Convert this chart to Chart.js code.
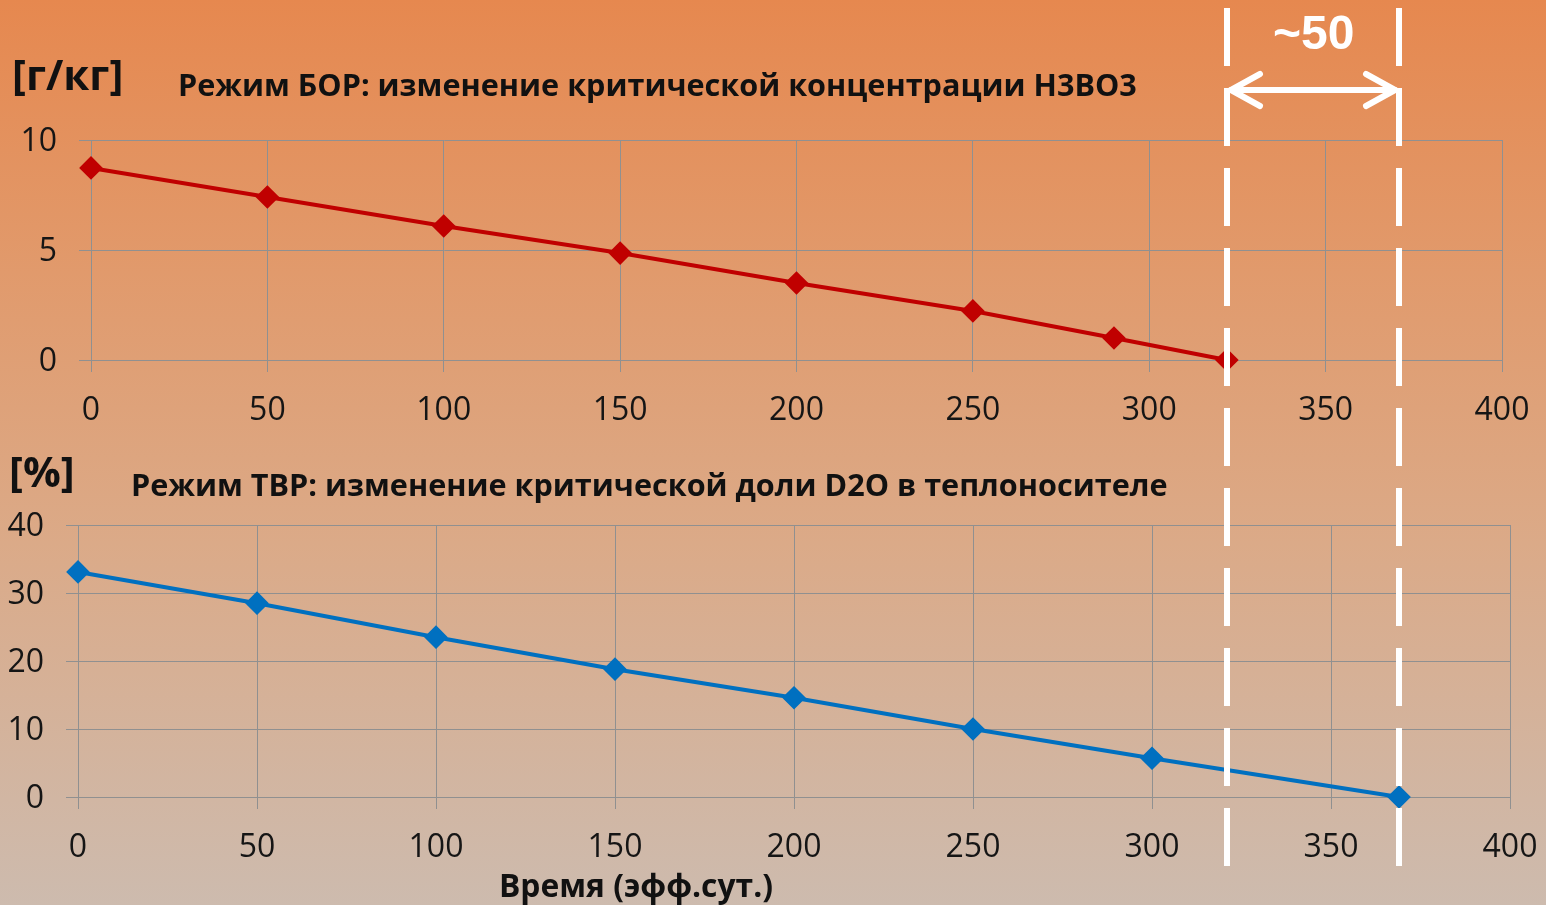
<!DOCTYPE html>
<html><head><meta charset="utf-8">
<script src="https://cdn.jsdelivr.net/npm/chart.js@4/dist/chart.umd.min.js"></script>
<style>
html,body{margin:0;padding:0;}
body{width:1546px;height:905px;position:relative;overflow:hidden;
 background:linear-gradient(to bottom,#E6884F 0%,#E19A6C 30%,#DBAA88 60%,#CDBBAE 100%);
 font-family:"Open Sans",sans-serif;}
canvas{position:absolute;left:0;}
.t{position:absolute;font-weight:bold;color:#111;white-space:nowrap;line-height:1;}
</style></head><body>
<canvas id="c1" width="1546" height="430" style="top:0;width:1546px;height:430px"></canvas>
<canvas id="c2" width="1546" height="475" style="top:430px;width:1546px;height:475px"></canvas>
<canvas id="ov" width="1546" height="905" style="top:0;width:1546px;height:905px;pointer-events:none"></canvas>
<div class="t" style="left:12px;top:53px;font-size:42px">[г/кг]</div>
<div class="t" id="title1" style="left:178px;top:69px;font-size:30.6px">Режим БОР: изменение критической концентрации H3BO3</div>
<div class="t" style="left:9px;top:450px;font-size:42px">[%]</div>
<div class="t" id="title2" style="left:131px;top:469px;font-size:30.6px">Режим ТВР: изменение критической доли D2O в теплоносителе</div>
<div class="t" style="left:499px;top:869px;font-size:31.8px">Время (эфф.сут.)</div>
<div class="t" style="left:1273px;top:9px;font-size:48px;color:#fff;font-family:'Liberation Sans',Arial,sans-serif">~50</div>
<script>
// Data
const borDays = [0, 50, 100, 150, 200, 250, 290, 322];
const borConc = [8.73, 7.41, 6.09, 4.86, 3.5, 2.23, 1.0, 0];
const tvrDays = [0, 50, 100, 150, 200, 250, 300, 369];
const tvrD2O = [33.1, 28.5, 23.5, 18.8, 14.6, 10.0, 5.7, 0];
const xTicks = [0, 50, 100, 150, 200, 250, 300, 350, 400];
const borTicks = [0, 5, 10];
const tvrTicks = [0, 10, 20, 30, 40];
const markerLeft = 322;   // end of BOR mode (top chart scale)
const markerRight = 369;  // end of TVR mode (bottom chart scale)

const tickFont = {family:"'Open Sans', sans-serif", size:32};
const gridColor = '#909090';

function makeChart(id, xs, ys, color, yMax, yTicks, left, right, padTop, axisH) {
  return new Chart(document.getElementById(id), {
    type:'line',
    data:{datasets:[{data: xs.map((x,i)=>({x:x,y:ys[i]})), borderColor:color, backgroundColor:color,
      borderWidth:4, pointStyle:'rectRot', pointRadius:9, pointHoverRadius:9, tension:0, clip:false}]},
    options:{
      responsive:false, animation:false, devicePixelRatio:1,
      layout:{padding:{left:0, right:1546-right, top:padTop, bottom:0}},
      plugins:{legend:{display:false}, tooltip:{enabled:false}},
      scales:{
        x:{type:'linear', min:0, max:400,
          afterBuildTicks:s=>{s.ticks = xTicks.map(v=>({value:v}));},
          afterFit:s=>{s.height = axisH; s.paddingLeft = 0; s.paddingRight = 0;},
          grid:{color:gridColor, lineWidth:1, tickLength:12, drawTicks:true},
          border:{color:gridColor},
          ticks:{font:tickFont, color:'#151515', padding:20, maxRotation:0}},
        y:{min:0, max:yMax,
          afterBuildTicks:s=>{s.ticks = yTicks.map(v=>({value:v}));},
          afterFit:s=>{s.width = left; s.paddingTop = 0; s.paddingBottom = 0;},
          grid:{color:gridColor, lineWidth:1, tickLength:12},
          border:{color:gridColor},
          ticks:{font:tickFont, color:'#151515', padding:22, labelOffset:2}}
      }
    }
  });
}
const chartTop = makeChart('c1', borDays, borConc, '#C00000', 10, borTicks, 91, 1502, 140, 70);
const chartBot = makeChart('c2', tvrDays, tvrD2O, '#0070C0', 40, tvrTicks, 78, 1510, 95, 108);

// overlay: dashed guide lines and double arrow
const xl = Math.round(chartTop.scales.x.getPixelForValue(markerLeft));
const xr = Math.round(chartBot.scales.x.getPixelForValue(markerRight));
const ctx = document.getElementById('ov').getContext('2d');
ctx.strokeStyle = '#ffffff';
ctx.lineWidth = 6;
ctx.setLineDash([58, 22]);
[xl, xr].forEach(x=>{ctx.beginPath(); ctx.moveTo(x, 8); ctx.lineTo(x, 868); ctx.stroke();});
ctx.setLineDash([]);
ctx.lineCap = 'round'; ctx.lineJoin = 'round';
const ay = 90;
ctx.beginPath(); ctx.moveTo(xl+4, ay); ctx.lineTo(xr-4, ay); ctx.stroke();
ctx.beginPath(); ctx.moveTo(xl+33, ay-16); ctx.lineTo(xl+4, ay); ctx.lineTo(xl+33, ay+16); ctx.stroke();
ctx.beginPath(); ctx.moveTo(xr-33, ay-16); ctx.lineTo(xr-4, ay); ctx.lineTo(xr-33, ay+16); ctx.stroke();
</script>
</body></html>
